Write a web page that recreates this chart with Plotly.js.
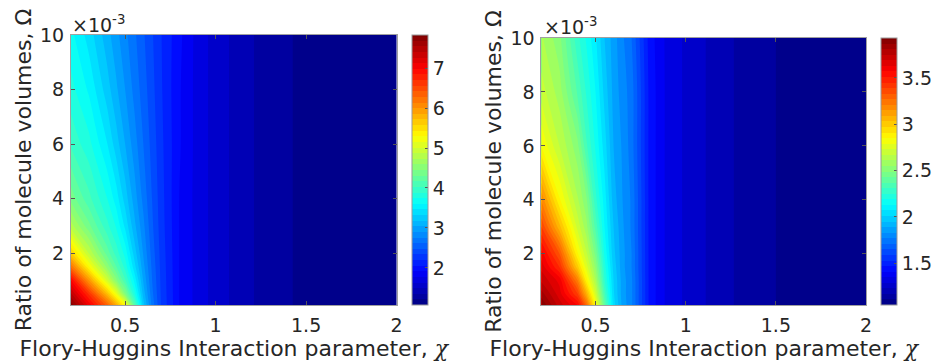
<!DOCTYPE html>
<html><head><meta charset="utf-8">
<script src="https://cdn.plot.ly/plotly-3.0.1.min.js"></script>
<style>html,body{margin:0;padding:0;background:#fff}#chart{width:935px;height:362px}</style>
</head><body><div id="chart"></div>
<script>
// Flory-Huggins interaction parameter (x) and ratio of molecule volumes (y)
const chi = [0.2, 0.3, 0.4, 0.45, 0.5, 0.55, 0.6, 0.65, 0.7, 0.8, 0.9, 1.0, 1.2, 1.4, 1.6, 1.8, 2.0];
const omega = [0.0001, 0.0005, 0.001, 0.0015, 0.002, 0.003, 0.004, 0.006, 0.008, 0.01];

// Left panel values (rows follow omega, columns follow chi)
const zLeft = [
  [7.80, 7.07, 6.35, 5.86, 5.30, 4.20, 3.25, 2.70, 2.32, 1.91, 1.72, 1.57, 1.36, 1.22, 1.15, 1.10, 1.08],
  [7.44, 6.68, 5.75, 5.19, 4.47, 3.81, 3.13, 2.65, 2.31, 1.91, 1.72, 1.57, 1.36, 1.22, 1.15, 1.10, 1.08],
  [7.00, 5.99, 5.01, 4.51, 4.05, 3.58, 3.03, 2.61, 2.30, 1.91, 1.72, 1.57, 1.36, 1.22, 1.15, 1.10, 1.08],
  [6.25, 5.30, 4.54, 4.18, 3.83, 3.39, 2.95, 2.58, 2.29, 1.91, 1.72, 1.57, 1.36, 1.22, 1.15, 1.10, 1.08],
  [5.60, 4.86, 4.25, 3.97, 3.69, 3.27, 2.89, 2.55, 2.28, 1.91, 1.72, 1.57, 1.36, 1.22, 1.15, 1.10, 1.08],
  [4.80, 4.35, 3.93, 3.73, 3.43, 3.09, 2.80, 2.50, 2.26, 1.91, 1.72, 1.57, 1.36, 1.22, 1.15, 1.10, 1.08],
  [4.40, 4.07, 3.75, 3.54, 3.26, 2.98, 2.72, 2.47, 2.25, 1.91, 1.72, 1.57, 1.36, 1.22, 1.15, 1.10, 1.08],
  [4.00, 3.79, 3.47, 3.25, 3.04, 2.83, 2.62, 2.42, 2.23, 1.93, 1.72, 1.57, 1.36, 1.22, 1.15, 1.10, 1.08],
  [3.80, 3.58, 3.25, 3.07, 2.90, 2.72, 2.55, 2.38, 2.21, 1.93, 1.72, 1.57, 1.36, 1.22, 1.15, 1.10, 1.08],
  [3.65, 3.40, 3.10, 2.95, 2.80, 2.65, 2.50, 2.35, 2.20, 1.95, 1.72, 1.57, 1.36, 1.22, 1.15, 1.10, 1.08]
];

// Right panel values
const zRight = [
  [3.93, 3.72, 3.57, 3.28, 2.85, 2.40, 2.04, 1.87, 1.78, 1.45, 1.33, 1.28, 1.19, 1.13, 1.09, 1.07, 1.05],
  [3.84, 3.66, 3.40, 3.08, 2.73, 2.33, 2.02, 1.86, 1.78, 1.45, 1.33, 1.28, 1.19, 1.13, 1.09, 1.07, 1.05],
  [3.74, 3.61, 3.22, 2.88, 2.62, 2.26, 2.01, 1.86, 1.78, 1.45, 1.33, 1.28, 1.19, 1.13, 1.09, 1.07, 1.05],
  [3.67, 3.45, 3.00, 2.76, 2.54, 2.22, 1.99, 1.85, 1.77, 1.45, 1.33, 1.28, 1.19, 1.13, 1.09, 1.07, 1.05],
  [3.60, 3.33, 2.86, 2.68, 2.47, 2.18, 1.97, 1.85, 1.77, 1.45, 1.33, 1.28, 1.19, 1.13, 1.09, 1.07, 1.05],
  [3.39, 3.05, 2.71, 2.57, 2.35, 2.13, 1.95, 1.84, 1.76, 1.45, 1.33, 1.28, 1.19, 1.13, 1.09, 1.07, 1.05],
  [3.20, 2.86, 2.62, 2.50, 2.27, 2.10, 1.92, 1.83, 1.76, 1.45, 1.33, 1.28, 1.19, 1.13, 1.09, 1.07, 1.05],
  [2.85, 2.67, 2.51, 2.32, 2.18, 2.04, 1.89, 1.82, 1.74, 1.45, 1.33, 1.28, 1.19, 1.13, 1.09, 1.07, 1.05],
  [2.70, 2.58, 2.36, 2.24, 2.13, 1.99, 1.87, 1.80, 1.74, 1.45, 1.33, 1.28, 1.19, 1.13, 1.09, 1.07, 1.05],
  [2.62, 2.51, 2.27, 2.18, 2.08, 1.95, 1.86, 1.78, 1.71, 1.44, 1.33, 1.28, 1.19, 1.13, 1.09, 1.07, 1.05]
];

const xTickVals = [0.5, 1, 1.5, 2];
const xTickText = ['0.5', '1', '1.5', '2'];
const yTickVals = [0.002, 0.004, 0.006, 0.008, 0.01];
const yTickText = ['2', '4', '6', '8', '10'];
const cbLeftTicks = [2, 3, 4, 5, 6, 7];
const cbRightTicks = [1.5, 2, 2.5, 3, 3.5];
const leftRange = [1.07, 7.83];
const rightRange = [1.05, 3.93];

const jet = [[0, '#000080'], [0.125, '#0000ff'], [0.375, '#00ffff'], [0.625, '#ffff00'], [0.875, '#ff0000'], [1, '#800000']];
const W = 935, H = 362;
const FONT = 'DejaVu Sans, Arial, sans-serif';
const TXT = '#262626';
const TICK = 19, TITLE = 22;

function cb(xpx, ytop, ybot, ticks) {
  return {
    thickness: 16, thicknessmode: 'pixels',
    len: (ybot - ytop), lenmode: 'pixels',
    x: xpx / W, xanchor: 'left', xref: 'paper',
    y: 1 - ybot / H, yanchor: 'bottom', yref: 'paper',
    outlinecolor: '#9a9a9a', outlinewidth: 1,
    ticks: 'inside', ticklen: 3, tickcolor: '#555',
    tickvals: ticks, ticktext: ticks.map(String),
    tickfont: {family: FONT, size: TICK, color: TXT},
    ticklabelstandoff: 2,
    xpad: 0, ypad: 0
  };
}

function contourTrace(z, rng, xa, ya, cbar) {
  return {
    type: 'contour', x: chi, y: omega, z: z, xaxis: xa, yaxis: ya,
    colorscale: jet, zauto: false, zmin: rng[0], zmax: rng[1],
    autocontour: false,
    contours: {coloring: 'fill', start: rng[0], end: rng[1], size: (rng[1] - rng[0]) / 48, showlines: false},
    line: {width: 0},
    hoverinfo: 'skip',
    colorbar: cbar
  };
}

const data = [
  contourTrace(zLeft, leftRange, 'x', 'y', cb(412, 35, 305, cbLeftTicks)),
  contourTrace(zRight, rightRange, 'x2', 'y2', cb(881, 38, 305, cbRightTicks))
];

function xax(d0, d1, anchor) {
  return {
    domain: [d0 / W, d1 / W], anchor: anchor, range: [0.2, 2],
    tickvals: xTickVals, ticktext: xTickText,
    ticks: 'inside', ticklen: 4, tickcolor: '#555',
    showline: true, linecolor: '#a0a0a0', linewidth: 1, mirror: 'ticks',
    showgrid: false, zeroline: false,
    tickfont: {family: FONT, size: TICK, color: TXT},
    ticklabelstandoff: 3,
    title: {text: 'Flory-Huggins Interaction parameter, <span style="font-family:DejaVu Serif;font-style:italic">χ</span>',
            font: {family: FONT, size: TITLE, color: TXT}, standoff: 0}
  };
}
function yax(top, bot, anchor) {
  return {
    domain: [1 - bot / H, 1 - top / H], anchor: anchor, range: [0.0001, 0.01],
    tickvals: yTickVals, ticktext: yTickText,
    ticks: 'inside', ticklen: 4, tickcolor: '#555',
    showline: true, linecolor: '#a0a0a0', linewidth: 1, mirror: 'ticks',
    showgrid: false, zeroline: false,
    tickfont: {family: FONT, size: TICK, color: TXT},
    ticklabelstandoff: 2,
    title: {text: 'Ratio of molecule volumes, Ω', font: {family: FONT, size: TITLE, color: TXT}, standoff: 2}
  };
}

const layout = {
  width: W, height: H,
  margin: {l: 0, r: 0, t: 0, b: 0},
  paper_bgcolor: '#fff', plot_bgcolor: '#fff',
  showlegend: false,
  xaxis: xax(71, 397, 'y'),
  yaxis: yax(35, 305, 'x'),
  xaxis2: xax(542, 867, 'y2'),
  yaxis2: yax(38, 305, 'x2'),
  annotations: [
    {xref: 'paper', yref: 'paper', x: 70 / W, y: 1 - 24 / H, xanchor: 'left', yanchor: 'middle', showarrow: false,
     text: '×10<sup>-3</sup>', font: {family: FONT, size: 19, color: TXT}},
    {xref: 'paper', yref: 'paper', x: 543 / W, y: 1 - 26 / H, xanchor: 'left', yanchor: 'middle', showarrow: false,
     text: '×10<sup>-3</sup>', font: {family: FONT, size: 19, color: TXT}}
  ]
};

Plotly.newPlot('chart', data, layout, {staticPlot: true, displayModeBar: false});
</script></body></html>
